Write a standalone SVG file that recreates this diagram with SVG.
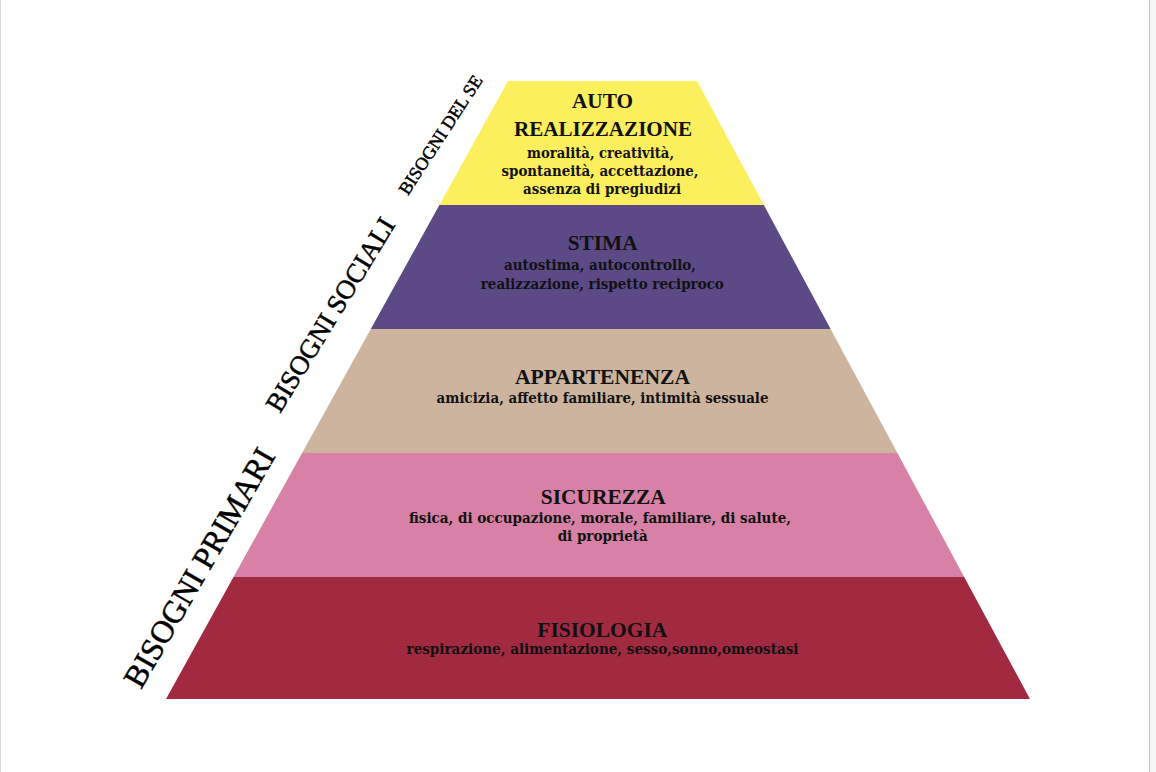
<svg xmlns="http://www.w3.org/2000/svg" width="1156" height="772" viewBox="0 0 1156 772">
  <style>
    .title { font-family: "Liberation Serif", "Times New Roman", serif; font-weight: bold; font-size: 21px; fill: #111; text-anchor: middle; }
    .sub { font-family: "DejaVu Serif Condensed", "DejaVu Serif", serif; font-weight: bold; font-size: 14.5px; fill: #111; text-anchor: middle; }
    .side { font-family: "Liberation Serif", "Times New Roman", serif; fill: #000; stroke: #000; stroke-width: 0.5px; }
  </style>
  <rect x="0" y="0" width="1156" height="772" fill="#ffffff"/>
  <rect x="0" y="0" width="1" height="772" fill="#dcdcdc"/>
  <rect x="1149" y="0" width="7" height="772" fill="#f6f6f6"/>
  <rect x="1149" y="0" width="1" height="772" fill="#c4c4c4"/>

  <g id="autorealizzazione">
    <polygon points="508,81 697,81 763.8,205 439.4,205" fill="#FCEF5D"/>
    <text class="title" x="602.5" y="108" textLength="61" lengthAdjust="spacingAndGlyphs">AUTO</text>
    <text class="title" x="603" y="136" textLength="178" lengthAdjust="spacingAndGlyphs">REALIZZAZIONE</text>
    <text class="sub" x="600.5" y="157.5" textLength="147" lengthAdjust="spacingAndGlyphs">moralità, creatività,</text>
    <text class="sub" x="600" y="176" textLength="197" lengthAdjust="spacingAndGlyphs">spontaneità, accettazione,</text>
    <text class="sub" x="602" y="194" textLength="158" lengthAdjust="spacingAndGlyphs">assenza di pregiudizi</text>
  </g>

  <g id="stima">
    <polygon points="439.4,205 763.8,205 830.6,329 370.8,329" fill="#5C4A87"/>
    <text class="title" x="602.7" y="250" textLength="70" lengthAdjust="spacingAndGlyphs">STIMA</text>
    <text class="sub" x="600" y="269.5" textLength="192" lengthAdjust="spacingAndGlyphs">autostima, autocontrollo,</text>
    <text class="sub" x="602.3" y="288.5" textLength="243" lengthAdjust="spacingAndGlyphs">realizzazione, rispetto reciproco</text>
  </g>

  <g id="appartenenza">
    <polygon points="370.8,329 830.6,329 897.4,453 302.1,453" fill="#CDB49F"/>
    <text class="title" x="602.5" y="383.5" textLength="175" lengthAdjust="spacingAndGlyphs">APPARTENENZA</text>
    <text class="sub" x="602.5" y="402.7" textLength="332" lengthAdjust="spacingAndGlyphs">amicizia, affetto familiare, intimità sessuale</text>
  </g>

  <g id="sicurezza">
    <polygon points="302.1,453 897.4,453 964.2,577 233.5,577" fill="#D681A5"/>
    <text class="title" x="603.3" y="503.5" textLength="125" lengthAdjust="spacingAndGlyphs">SICUREZZA</text>
    <text class="sub" x="600" y="522.7" textLength="382" lengthAdjust="spacingAndGlyphs">fisica, di occupazione, morale, familiare, di salute,</text>
    <text class="sub" x="602.7" y="541" textLength="90" lengthAdjust="spacingAndGlyphs">di proprietà</text>
  </g>

  <g id="fisiologia">
    <polygon points="233.5,577 964.2,577 1030,699 166,699" fill="#A12A41"/>
    <text class="title" x="602.3" y="636.7" textLength="130" lengthAdjust="spacingAndGlyphs">FISIOLOGIA</text>
    <text class="sub" x="602.5" y="654.3" textLength="392" lengthAdjust="spacingAndGlyphs">respirazione, alimentazione, sesso,sonno,omeostasi</text>
  </g>

  <g id="side-labels">
    <text class="side" font-size="32" transform="translate(141,690) rotate(-60)" textLength="270" lengthAdjust="spacingAndGlyphs">BISOGNI PRIMARI</text>
    <text class="side" font-size="27" transform="translate(280,414) rotate(-58.5)" textLength="222" lengthAdjust="spacingAndGlyphs">BISOGNI SOCIALI</text>
    <text class="side" font-size="18" transform="translate(408,196) rotate(-57)" textLength="138" lengthAdjust="spacingAndGlyphs">BISOGNI DEL SE</text>
  </g>
</svg>
